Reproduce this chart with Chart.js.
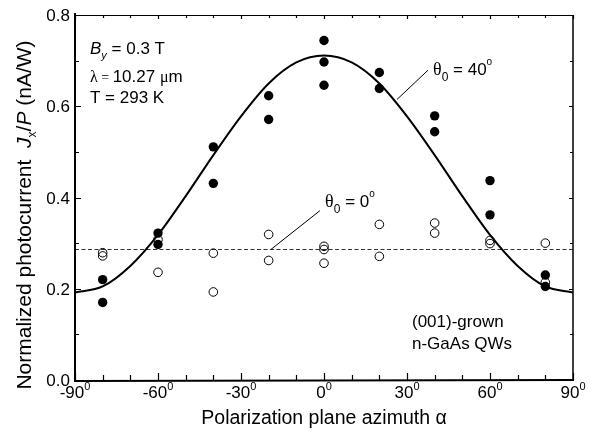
<!DOCTYPE html>
<html>
<head>
<meta charset="utf-8">
<script src="https://cdn.jsdelivr.net/npm/chart.js@4"></script>
<style>
  body { margin: 0; background: #fff; }
  canvas { display: block; }
</style>
</head>
<body>
<canvas id="chart" width="607" height="433"></canvas>
<script>
// measured points, theta0 = 40 deg (filled circles)
const filledAlpha = [-80, -80, -60, -60, -40, -40, -20, -20, 0, 0, 0, 20, 20, 40, 40, 60, 60, 80, 80];
const filledJ = [0.220, 0.170, 0.322, 0.297, 0.511, 0.431, 0.623, 0.571, 0.744, 0.697, 0.646, 0.674, 0.639, 0.579, 0.544, 0.437, 0.362, 0.230, 0.205];

// measured points, theta0 = 0 deg (open circles)
const openAlpha = [-80, -80, -60, -60, -40, -40, -20, -20, 0, 0, 0, 20, 20, 40, 40, 60, 60, 80, 80];
const openJ = [0.279, 0.272, 0.308, 0.236, 0.278, 0.193, 0.319, 0.262, 0.293, 0.286, 0.256, 0.341, 0.271, 0.344, 0.322, 0.306, 0.299, 0.300, 0.214];

// fit curve
const curveAlpha = [-90, -80, -70, -60, -50, -40, -30, -20, -10, 0, 10, 20, 30, 40, 50, 60, 70, 80, 90];
const curveJ = [0.192, 0.205, 0.250, 0.318, 0.403, 0.493, 0.578, 0.650, 0.696, 0.711, 0.696, 0.650, 0.578, 0.493, 0.403, 0.318, 0.250, 0.205, 0.192];

// dashed level for theta0 = 0
const flatAlpha = [-90, 90];
const flatJ = [0.286, 0.286];

const xTicks = [-90, -60, -30, 0, 30, 60, 90];
const yTicks = [0.0, 0.2, 0.4, 0.6, 0.8];

const FONT = '"Liberation Sans", Arial, sans-serif';
const SERIF = '"Liberation Serif", "DejaVu Serif", serif';

function zip(xs, ys) {
    return xs.map((x, i) => ({ x: x, y: ys[i] }));
}

// draws a list of text pieces [text, font, dy] left to right starting at x
function pieces(ctx, list, x, y) {
    for (const p of list) {
        ctx.font = p[1];
        ctx.fillText(p[0], x, y + (p[2] || 0));
        x += ctx.measureText(p[0]).width;
    }
    return x;
}
function piecesWidth(ctx, list) {
    let w = 0;
    for (const p of list) {
        ctx.font = p[1];
        w += ctx.measureText(p[0]).width;
    }
    return w;
}

const decor = {
    id: 'decor',
    afterDraw(chart) {
        const ctx = chart.ctx;
        const xs = chart.scales.x, ys = chart.scales.y;
        const a = chart.chartArea;
        ctx.save();
        ctx.strokeStyle = '#000';
        ctx.fillStyle = '#000';

        // frame: left & bottom heavier
        ctx.lineWidth = 1;
        ctx.beginPath();
        ctx.moveTo(a.left, a.top + 0.5); ctx.lineTo(a.right, a.top + 0.5);
        ctx.stroke();
        ctx.lineWidth = 1.5;
        ctx.beginPath();
        ctx.moveTo(a.right, a.top); ctx.lineTo(a.right, a.bottom);
        ctx.stroke();
        ctx.lineWidth = 2;
        ctx.beginPath();
        ctx.moveTo(a.left, a.top - 2); ctx.lineTo(a.left, a.bottom + 1);
        ctx.lineTo(a.right + 1, a.bottom);
        ctx.stroke();

        // x ticks, every 10 deg, majors every 30
        ctx.lineWidth = 1.2;
        for (let v = -90; v <= 90; v += 10) {
            const px = Math.round(xs.getPixelForValue(v)) + 0.5;
            const major = v % 30 === 0;
            ctx.beginPath();
            ctx.moveTo(px, a.bottom); ctx.lineTo(px, a.bottom - (major ? 7 : 5));
            ctx.moveTo(px, a.top); ctx.lineTo(px, a.top + (major ? 4 : 3));
            ctx.stroke();
        }
        // y ticks, every 0.1, majors every 0.2
        for (let k = 0; k <= 8; k++) {
            const py = Math.round(ys.getPixelForValue(k / 10)) + 0.5;
            const major = k % 2 === 0;
            ctx.beginPath();
            ctx.moveTo(a.left, py); ctx.lineTo(a.left + (major ? 6 : 4), py);
            ctx.moveTo(a.right, py); ctx.lineTo(a.right - (major ? 4 : 3), py);
            ctx.stroke();
        }

        // y tick labels
        ctx.font = '17px ' + FONT;
        ctx.textAlign = 'right';
        ctx.textBaseline = 'alphabetic';
        for (const v of yTicks) {
            ctx.fillText(v.toFixed(1), a.left - 5, ys.getPixelForValue(v) + 6);
        }

        // x tick labels with superscript 0
        ctx.textAlign = 'left';
        for (const v of xTicks) {
            const list = [[String(v), '17px ' + FONT, 0], ['0', '11px ' + FONT, -8]];
            const w = piecesWidth(ctx, list);
            pieces(ctx, list, xs.getPixelForValue(v) - w / 2, a.bottom + 18);
        }

        // x title
        ctx.font = '19.5px ' + FONT;
        ctx.textAlign = 'center';
        ctx.fillText('Polarization plane azimuth \u03b1', (a.left + a.right) / 2, 424);

        // y title (rotated)
        ctx.save();
        ctx.translate(31, 215);
        ctx.rotate(-Math.PI / 2);
        ctx.textAlign = 'left';
        const yt = [
            ['Normalized photocurrent  ', '21px ' + FONT, 0],
            ['J', 'italic 21px ' + FONT, 0],
            ['x', '12px ' + FONT, 5],
            ['/', '21px ' + FONT, 0],
            ['P', 'italic 21px ' + FONT, 0],
            [' (nA/W)', '21px ' + FONT, 0]
        ];
        pieces(ctx, yt, -piecesWidth(ctx, yt) / 2, 0);
        ctx.restore();

        // parameter block
        ctx.textAlign = 'left';
        pieces(ctx, [
            ['B', 'italic 17px ' + FONT, 0],
            ['y', 'italic 11px ' + FONT, 5],
            [' = 0.3 T', '17px ' + FONT, 0]
        ], 90, 54);
        pieces(ctx, [
            ['\u03bb', '16px ' + SERIF, 0],
            [' = ', '14px ' + SERIF, 0],
            ['10.27 ', '17px ' + FONT, 0],
            ['\u03bc', '16px ' + SERIF, 0],
            ['m', '17px ' + FONT, 0]
        ], 90, 82);
        pieces(ctx, [['T = 293 K', '17px ' + FONT, 0]], 90, 103);

        // sample label
        ctx.font = '17px ' + FONT;
        ctx.fillText('(001)-grown', 412, 327);
        ctx.fillText('n-GaAs QWs', 412, 349);

        // leader lines + theta labels (data coordinates)
        ctx.lineWidth = 1;
        ctx.beginPath();
        ctx.moveTo(xs.getPixelForValue(26.4), ys.getPixelForValue(0.615));
        ctx.lineTo(xs.getPixelForValue(37.6), ys.getPixelForValue(0.679));
        ctx.moveTo(xs.getPixelForValue(-19.2), ys.getPixelForValue(0.286));
        ctx.lineTo(xs.getPixelForValue(-1.5), ys.getPixelForValue(0.371));
        ctx.stroke();

        const theta = (txt, px, py) => pieces(ctx, [
            ['\u03b8', '18px ' + SERIF, 0],
            ['0', '12px ' + FONT, 6],
            [' = ' + txt, '17px ' + FONT, 0],
            ['o', '10px ' + FONT, -10]
        ], px, py);
        theta('40', xs.getPixelForValue(39.4), ys.getPixelForValue(0.668));
        theta('0', xs.getPixelForValue(0.4), ys.getPixelForValue(0.380));

        ctx.restore();
    }
};

const chart = new Chart(document.getElementById('chart'), {
    type: 'scatter',
    data: {
        datasets: [
            {
                label: 'theta0 = 40',
                data: zip(filledAlpha, filledJ),
                pointRadius: 4.7,
                pointBackgroundColor: '#000',
                pointBorderColor: '#000',
                pointBorderWidth: 0
            },
            {
                label: 'theta0 = 0',
                data: zip(openAlpha, openJ),
                pointRadius: 4.3,
                pointBackgroundColor: 'rgba(255,255,255,0)',
                pointBorderColor: '#000',
                pointBorderWidth: 1
            },
            {
                label: 'fit 40',
                type: 'line',
                data: zip(curveAlpha, curveJ),
                borderColor: '#000',
                borderWidth: 2,
                pointRadius: 0,
                cubicInterpolationMode: 'monotone',
                fill: false
            },
            {
                label: 'fit 0',
                type: 'line',
                data: zip(flatAlpha, flatJ),
                borderColor: '#333',
                borderWidth: 1,
                borderDash: [4, 2.5],
                pointRadius: 0,
                fill: false
            }
        ]
    },
    options: {
        responsive: false,
        animation: false,
        layout: { padding: { left: 75, right: 34, top: 15, bottom: 53 } },
        plugins: {
            legend: { display: false },
            tooltip: { enabled: false }
        },
        scales: {
            x: { type: 'linear', min: -90, max: 90, display: false },
            y: { type: 'linear', min: 0, max: 0.8, display: false }
        }
    },
    plugins: [decor]
});
</script>
</body>
</html>
